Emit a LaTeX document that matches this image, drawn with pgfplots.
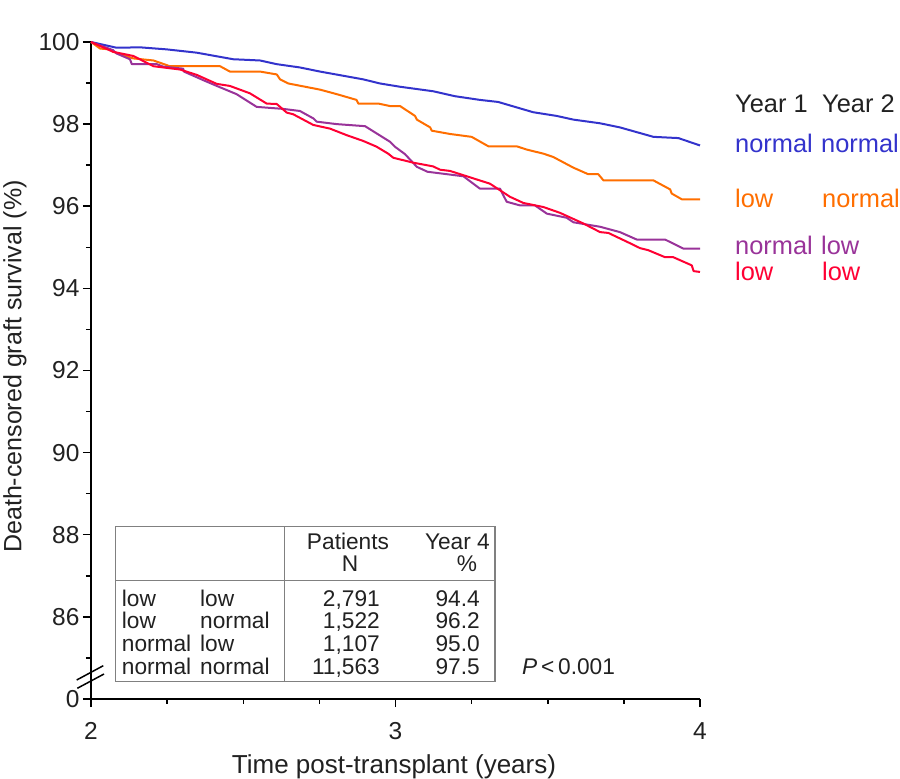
\documentclass[border=0pt]{standalone}
\usepackage{pgfplots}
\pgfplotsset{compat=1.18}
\usepackage{fontspec}
\setmainfont{Liberation Sans}

\definecolor{cblue}{RGB}{51,51,204}
\definecolor{corange}{RGB}{255,110,0}
\definecolor{cpurple}{RGB}{153,51,153}
\definecolor{cred}{RGB}{255,0,51}
\definecolor{cgrid}{RGB}{128,128,128}

\newcommand{\tab}{\fontsize{22.7}{26}\selectfont}
\newcommand{\lab}{\fontsize{25.4}{30}\selectfont}
\newcommand{\tck}{\fontsize{24.5}{29}\selectfont}

\begin{document}
\begin{tikzpicture}
\begin{axis}[
    at={(0,0)}, anchor=south west,
    scale only axis,
    width=609pt, height=657pt,
    xmin=2, xmax=4, ymin=84, ymax=100,
    axis x line*=bottom, axis y line*=left,
    axis line style={line width=1.5pt, black},
    xtick={2,3,4},
    minor xtick={2.25,2.5,2.75,3.25,3.5,3.75},
    ytick={84,86,...,100},
    yticklabels={0,86,88,90,92,94,96,98,100},
    minor ytick={85,87,...,99},
    tick align=outside,
    major tick length=8pt, minor tick length=5pt,
    tick style={line width=1.5pt, black},
    /pgf/number format/assume math mode=true,
    tick label style={font=\tck, text=black!87},
    xticklabel style={yshift=-12pt},
    xlabel={Time post-transplant (years)},
    ylabel={Death-censored graft survival (\%)},
    xlabel style={font=\fontsize{26}{30}\selectfont, text=black!87,
        at={(axis description cs:0.4975,-0.114)}, anchor=base},
    ylabel style={font=\fontsize{25}{30}\selectfont, text=black!87,
        at={(axis description cs:-0.1248,0.506)}, anchor=center},
    clip=false,
    every axis plot/.append style={line width=2pt, line join=round},
]
% normal / normal
\addplot[cblue] coordinates {
(2,100) (2.084,99.86) (2.161,99.87) (2.249,99.82) (2.347,99.74) (2.467,99.58)
(2.555,99.55) (2.61,99.46) (2.686,99.38) (2.752,99.28) (2.894,99.09) (2.949,98.99)
(3.015,98.91) (3.124,98.80) (3.195,98.68) (3.277,98.59) (3.337,98.54) (3.452,98.29)
(3.529,98.20) (3.584,98.11) (3.672,98.02) (3.737,97.92) (3.847,97.69) (3.929,97.66)
(4.0,97.48)};
% low / normal
\addplot[corange] coordinates {
(2,100) (2.03,99.84) (2.062,99.82) (2.073,99.76) (2.139,99.60) (2.205,99.55)
(2.259,99.41) (2.424,99.41) (2.456,99.28) (2.555,99.28) (2.61,99.21) (2.621,99.09)
(2.648,98.99) (2.752,98.84) (2.807,98.73) (2.872,98.59) (2.878,98.50) (2.944,98.50)
(2.982,98.44) (3.015,98.44) (3.064,98.20) (3.07,98.11) (3.114,97.92) (3.119,97.84)
(3.179,97.76) (3.25,97.69) (3.305,97.46) (3.398,97.46) (3.431,97.38) (3.486,97.28)
(3.518,97.20) (3.584,96.94) (3.633,96.78) (3.666,96.78) (3.683,96.63) (3.847,96.63)
(3.902,96.41) (3.907,96.31) (3.94,96.17) (4.0,96.17)};
% normal / low
\addplot[cpurple] coordinates {
(2,100) (2.073,99.80) (2.084,99.72) (2.128,99.58) (2.134,99.46) (2.216,99.46)
(2.237,99.40) (2.303,99.35) (2.305,99.28) (2.369,99.07) (2.413,98.93) (2.478,98.73)
(2.544,98.42) (2.632,98.37) (2.686,98.32) (2.73,98.14) (2.741,98.06) (2.807,98.00)
(2.9,97.95) (2.982,97.57) (2.998,97.45) (3.031,97.27) (3.07,96.96) (3.105,96.84)
(3.223,96.73) (3.277,96.43) (3.343,96.43) (3.365,96.11) (3.409,96.02) (3.458,96.02)
(3.497,95.82) (3.562,95.72) (3.584,95.61) (3.672,95.50) (3.737,95.37) (3.792,95.19)
(3.885,95.19) (3.945,94.97) (4.0,94.97)};
% low / low
\addplot[cred] coordinates {
(2,100) (2.073,99.76) (2.139,99.66) (2.205,99.41) (2.292,99.33) (2.347,99.20)
(2.413,98.98) (2.456,98.93) (2.522,98.75) (2.577,98.50) (2.61,98.49) (2.643,98.28)
(2.664,98.24) (2.73,97.98) (2.785,97.89) (2.84,97.73) (2.894,97.59) (2.938,97.45)
(2.976,97.28) (2.993,97.18) (3.059,97.06) (3.124,96.97) (3.146,96.89) (3.179,96.86)
(3.234,96.73) (3.31,96.55) (3.376,96.23) (3.42,96.08) (3.486,95.98) (3.54,95.84)
(3.617,95.58) (3.672,95.37) (3.699,95.35) (3.77,95.10) (3.803,94.98) (3.83,94.93)
(3.885,94.76) (3.912,94.76) (3.973,94.56) (3.979,94.42) (4.0,94.40)};
\end{axis}

% axis break
\draw[line width=1.5pt] (-14.3pt,19pt) -- (12.3pt,33.3pt);
\draw[line width=1.5pt] (-13.7pt,10.7pt) -- (13pt,25pt);

% curve labels
\begin{scope}[every node/.style={anchor=base west, inner sep=0pt, font=\lab}]
\node[text=black!87] at (644pt,586pt) {Year 1};
\node[text=black!87] at (731pt,586pt) {Year 2};
\node[text=cblue] at (644pt,546pt) {normal};
\node[text=cblue] at (730pt,546pt) {normal};
\node[text=corange] at (644pt,491pt) {low};
\node[text=corange] at (731pt,491pt) {normal};
\node[text=cpurple] at (644pt,444pt) {normal};
\node[text=cpurple] at (730pt,444pt) {low};
\node[text=cred] at (644pt,418pt) {low};
\node[text=cred] at (731pt,418pt) {low};
\end{scope}

% summary table
\draw[cgrid, line width=1.5pt] (24.7pt,17.3pt) rectangle (404pt,172.3pt);
\draw[cgrid, line width=1.5pt] (24.7pt,118.3pt) -- (404pt,118.3pt);
\draw[cgrid, line width=1.5pt] (193.3pt,17.3pt) -- (193.3pt,172.3pt);
\begin{scope}[every node/.style={inner sep=0pt, font=\tab, text=black!87}]
\node[anchor=base] at (257pt,149pt) {Patients};
\node[anchor=base] at (259pt,127.3pt) {N};
\node[anchor=base east] at (399pt,149pt) {Year 4};
\node[anchor=base] at (376pt,127.3pt) {\%};
\foreach \y/\a/\b/\n/\p in {92.3/low/low/{2,791}/94.4,
                             70.7/low/normal/{1,522}/96.2,
                             47.3/normal/low/{1,107}/95.0,
                             24.7/normal/normal/{11,563}/97.5} {
  \node[anchor=base west] at (30.7pt,\y pt) {\a};
  \node[anchor=base west] at (109pt,\y pt) {\b};
  \node[anchor=base east] at (289pt,\y pt) {\n};
  \node[anchor=base east] at (389pt,\y pt) {\p};
}
\node[anchor=base west] at (431pt,24pt) {\textit{P}\,<\,0.001};
\end{scope}

\pgfresetboundingbox
\path (-91pt,-80pt) rectangle (809pt,699pt);
\end{tikzpicture}
\end{document}
